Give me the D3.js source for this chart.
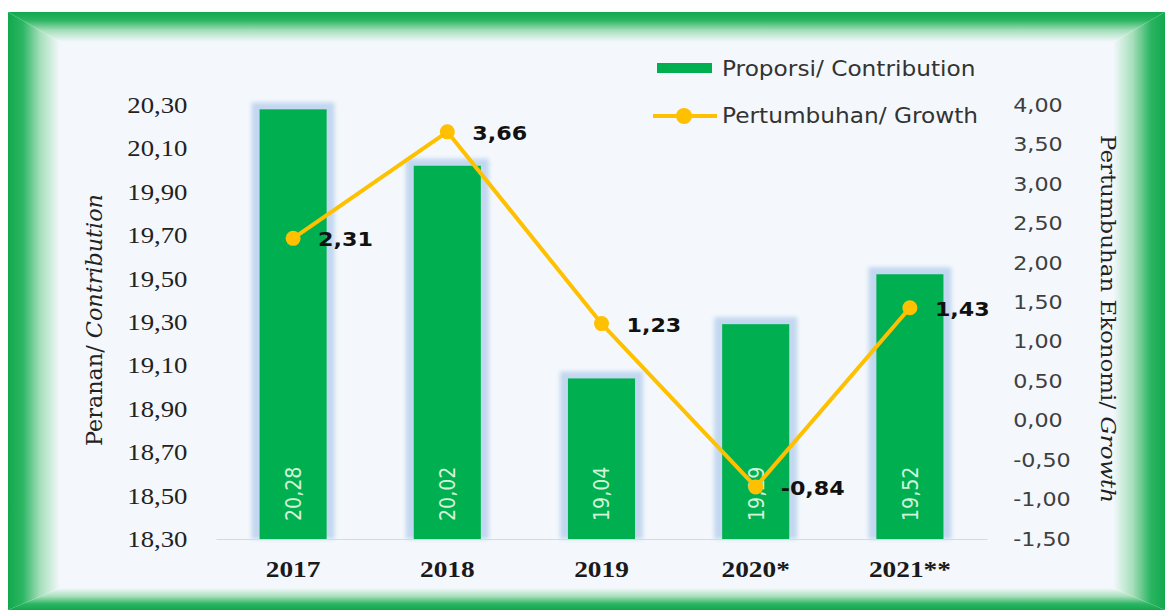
<!DOCTYPE html>
<html>
<head>
<meta charset="utf-8">
<script src="https://cdn.jsdelivr.net/npm/d3@7"></script>
<style>
  html, body { margin: 0; padding: 0; background: #ffffff; }
  svg { display: block; }
</style>
</head>
<body>
<svg id="chart" width="1165" height="610"></svg>
<script>
// ---- data ----
const categories = ["2017", "2018", "2019", "2020*", "2021**"];
const contribution = [20.28, 20.02, 19.04, 19.29, 19.52];
const growth = [2.31, 3.66, 1.23, -0.84, 1.43];
const leftTicks = [18.3, 18.5, 18.7, 18.9, 19.1, 19.3, 19.5, 19.7, 19.9, 20.1, 20.3];
const rightTicks = [-1.5, -1.0, -0.5, 0.0, 0.5, 1.0, 1.5, 2.0, 2.5, 3.0, 3.5, 4.0];
const legendLabels = ["Proporsi/ Contribution", "Pertumbuhan/ Growth"];

const fmt = d => d.toFixed(2).replace(".", ",");
const SX = 1.14; // horizontal stretch of text in the original

const svg = d3.select("#chart");

// ---- defs ----
const defs = svg.append("defs");
function grad(id, x1, y1, x2, y2) {
  const g = defs.append("linearGradient").attr("id", id)
    .attr("x1", x1).attr("y1", y1).attr("x2", x2).attr("y2", y2);
  g.append("stop").attr("offset", "0%").attr("stop-color", "#12a84e");
  g.append("stop").attr("offset", "28%").attr("stop-color", "#2cb562");
  g.append("stop").attr("offset", "62%").attr("stop-color", "#a6dfbb");
  g.append("stop").attr("offset", "100%").attr("stop-color", "#f4f8fc");
}
grad("gTop", 0, 0, 0, 1);
grad("gLeft", 0, 0, 1, 0);
grad("gBottom", 0, 1, 0, 0);
grad("gRight", 1, 0, 0, 0);
const blur = defs.append("filter").attr("id", "glow")
  .attr("x", "-30%").attr("y", "-10%").attr("width", "160%").attr("height", "120%");
blur.append("feGaussianBlur").attr("stdDeviation", 2.2);

// ---- frame ----
const o = {l: 8, t: 12, r: 1165, b: 610};
const i = {l: 60, t: 42, r: 1113, b: 588};
svg.append("rect").attr("x", i.l).attr("y", i.t).attr("width", i.r - i.l).attr("height", i.b - i.t).attr("fill", "#f4f8fc");
const poly = (pts, fill) => svg.append("polygon").attr("points", pts.map(p => p.join(",")).join(" ")).attr("fill", fill);
poly([[o.l, o.t], [o.r, o.t], [i.r, i.t], [i.l, i.t]], "url(#gTop)");
poly([[o.l, o.t], [i.l, i.t], [i.l, i.b], [o.l, o.b]], "url(#gLeft)");
poly([[o.l, o.b], [i.l, i.b], [i.r, i.b], [o.r, o.b]], "url(#gBottom)");
poly([[o.r, o.t], [o.r, o.b], [i.r, i.b], [i.r, i.t]], "url(#gRight)");

// ---- scales ----
const x = d3.scaleBand().domain(categories).range([216, 987]).paddingInner(0.565).paddingOuter(0.2825);
const yL = d3.scaleLinear().domain([18.3, 20.3]).range([539, 105]);
const yR = d3.scaleLinear().domain([-1.5, 4.0]).range([539, 105]);
const cx = c => x(c) + x.bandwidth() / 2;

// ---- axes ----
const axL = svg.append("g").attr("transform", "translate(216,0)")
  .call(d3.axisLeft(yL).tickValues(leftTicks).tickFormat(fmt).tickSize(0).tickPadding(25));
axL.select(".domain").remove();
axL.selectAll("text").attr("font-family", "'Liberation Serif', serif").attr("font-size", 23.5)
  .attr("fill", "#222").attr("transform", `scale(${SX},1)`);

const axR = svg.append("g").attr("transform", "translate(987,0)")
  .call(d3.axisRight(yR).tickValues(rightTicks).tickFormat(fmt).tickSize(0).tickPadding(23));
axR.select(".domain").remove();
axR.selectAll("text").attr("font-family", "'DejaVu Sans', sans-serif").attr("font-size", 19.5)
  .attr("fill", "#404040").attr("transform", `scale(${SX},1)`);

// ---- bars with glow ----
const bars = svg.append("g");
bars.selectAll("rect.glow").data(categories).join("rect").attr("class", "glow")
  .attr("x", c => x(c) - 8).attr("width", x.bandwidth() + 16)
  .attr("y", (c, k) => yL(contribution[k]) - 7)
  .attr("height", (c, k) => yL(18.3) - yL(contribution[k]) + 7)
  .attr("fill", "#c2d7f0").attr("filter", "url(#glow)");
bars.selectAll("rect.bar").data(categories).join("rect").attr("class", "bar")
  .attr("x", c => x(c)).attr("width", x.bandwidth())
  .attr("y", (c, k) => yL(contribution[k]))
  .attr("height", (c, k) => yL(18.3) - yL(contribution[k]))
  .attr("fill", "#00b050");

const axB = svg.append("g").attr("transform", "translate(0,539)")
  .call(d3.axisBottom(x).tickSize(0).tickSizeOuter(0).tickPadding(21));
axB.select(".domain").attr("stroke", "#d9d9d9").attr("stroke-width", 1.2);
axB.selectAll("text").attr("font-family", "'Liberation Serif', serif").attr("font-size", 24)
  .attr("font-weight", "bold").attr("fill", "#1a1a1a").attr("transform", `scale(${SX},1)`);

// bar value labels (rotated)
bars.selectAll("text.val").data(categories).join("text").attr("class", "val")
  .attr("transform", c => `translate(${cx(c)},${yL(18.3) - 18}) scale(${SX},1) rotate(-90)`)
  .attr("dy", "0.36em").attr("text-anchor", "start")
  .attr("font-family", "'DejaVu Sans', sans-serif").attr("font-size", 19)
  .attr("fill", "#d3f4da")
  .text((c, k) => fmt(contribution[k]));

// ---- growth line ----
const line = d3.line().x((d, k) => cx(categories[k])).y(d => yR(d));
svg.append("path").datum(growth).attr("d", line)
  .attr("fill", "none").attr("stroke", "#ffc000").attr("stroke-width", 4).attr("stroke-linejoin", "round");
svg.selectAll("circle.pt").data(growth).join("circle").attr("class", "pt")
  .attr("cx", (d, k) => cx(categories[k])).attr("cy", d => yR(d)).attr("r", 7.5)
  .attr("fill", "#ffc000");
svg.selectAll("text.gl").data(growth).join("text").attr("class", "gl")
  .attr("transform", (d, k) => `translate(${cx(categories[k]) + 25},${yR(d) + 1}) scale(${SX},1)`)
  .attr("dy", "0.36em")
  .attr("font-family", "'DejaVu Sans', sans-serif").attr("font-size", 19.5).attr("font-weight", "bold")
  .attr("fill", "#111").text(d => fmt(d));

// ---- axis titles ----
const tl = svg.append("text")
  .attr("transform", "translate(102,320) rotate(-90)")
  .attr("text-anchor", "middle")
  .attr("font-family", "'DejaVu Serif', serif").attr("font-size", 22.3).attr("fill", "#222");
tl.append("tspan").text("Peranan/ ");
tl.append("tspan").attr("font-style", "italic").text("Contribution");

const tr = svg.append("text")
  .attr("transform", "translate(1101,319) rotate(90)")
  .attr("text-anchor", "middle")
  .attr("font-family", "'DejaVu Serif', serif").attr("font-size", 20).attr("fill", "#222")
  .attr("textLength", 368).attr("lengthAdjust", "spacingAndGlyphs");
tr.append("tspan").text("Pertumbuhan Ekonomi/ ");
tr.append("tspan").attr("font-style", "italic").text("Growth");

// ---- legend ----
const lg = svg.append("g");
lg.append("rect").attr("x", 657).attr("y", 63).attr("width", 55).attr("height", 10).attr("fill", "#00b050");
lg.append("line").attr("x1", 653).attr("x2", 717).attr("y1", 116).attr("y2", 116)
  .attr("stroke", "#ffc000").attr("stroke-width", 4);
lg.append("circle").attr("cx", 684).attr("cy", 116).attr("r", 8).attr("fill", "#ffc000");
lg.selectAll("text").data(legendLabels).join("text")
  .attr("transform", (d, k) => `translate(722,${k === 0 ? 75.5 : 123}) scale(${SX},1)`)
  .attr("font-family", "'DejaVu Sans', sans-serif").attr("font-size", 20.4)
  .attr("fill", "#333").text(d => d);
</script>
</body>
</html>
